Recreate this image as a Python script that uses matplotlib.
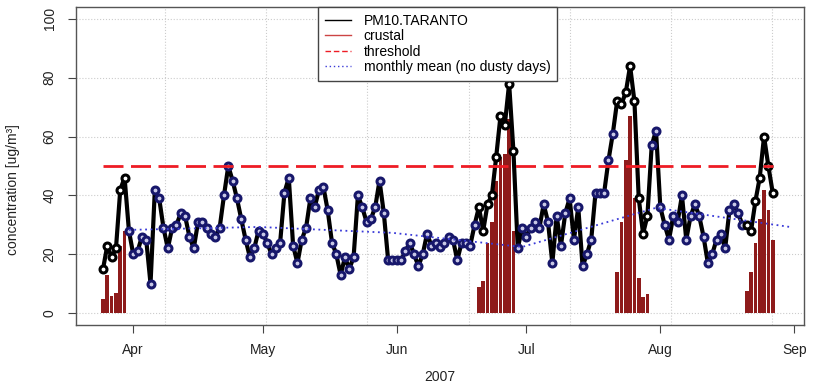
import numpy as np
import pandas as pd
import matplotlib
matplotlib.use("Agg")
import matplotlib.pyplot as plt
import matplotlib.dates as mdates
from matplotlib.lines import Line2D

plt.rcParams['font.family'] = ['Liberation Sans', 'DejaVu Sans']

# daily PM10 at Taranto, from 2007-03-25
start = '2007-03-25'
pm10 = [15, 23, 19, 22, 42, 46, 28, 20, 21, 26, 25, 10,
        42, 39, 29, 22, 29, 30, 34, 33, 26, 22, 31, 31, 29, 27, 26, 29, 40, 50,
        45, 39, 32, 25, 19, 22, 28, 27, 24, 20, 22, 24, 41, 46, 23, 17, 25, 29,
        39, 36, 42, 43, 35,
        24, 20, 13, 19, 15, 19, 40, 36, 31, 32, 36, 45, 34, 18, 18, 18, 18, 21,
        24, 20, 16, 20, 27, 23, 24,
        22.5, 24, 26, 25, 18, 24, 24, 23, 30, 36, 28, 37, 40, 53, 67, 64, 78, 55,
        22, 29, 26, 29, 31, 29, 37, 31, 17,
        33, 23, 34, 39, 25, 36, 16, 20, 25, 41, 41, 41, 52, 61, 72, 71, 75, 84,
        72, 39, 27, 33, 57, 62,
        36, 30, 25, 33, 31, 40, 25, 33, 37, 33, 26, 17, 20, 25, 27, 22, 35, 37,
        34, 30, 30, 28, 38, 46, 60, 50, 41]

# crustal contribution on dusty days
dust_starts = ['2007-03-25', '2007-06-20', '2007-07-22', '2007-08-21']
dust_vals = [[5, 13, 6, 7, 23, 28],
             [9, 11, 24, 31, 45, 53, 54, 66, 28],
             [14, 31, 52, 67, 39, 12, 5.5, 6.5],
             [7.5, 14, 24, 32, 42, 35, 25]]

# monthly mean without dusty days
mean_dates = ['2007-03-31', '2007-04-30', '2007-05-31', '2007-06-30',
              '2007-07-31', '2007-08-31']
mean_vals = [28.3, 29.3, 27.3, 22.5, 35.8, 29.3]

threshold = 50

days = pd.date_range(start, periods=len(pm10), freq='D')
pm = pd.Series(pm10, index=days, dtype=float)
crustal = pd.Series(0.0, index=days)
for s, v in zip(dust_starts, dust_vals):
    idx = pd.date_range(s, periods=len(v), freq='D')
    crustal[idx] = v
dusty = (crustal > 0).values

fig = plt.figure(figsize=(8.17, 3.83), dpi=100)
ax = fig.add_axes([76 / 817, 1 - 325 / 383, 728 / 817, 318 / 383])

# grid
ax.yaxis.grid(True, ls=':', color='#cccccc', lw=0.8)
vgrid = pd.Timestamp('2007-04-08 10:00') + pd.to_timedelta(np.arange(7) * 23.4, 'D')
for g in vgrid:
    ax.axvline(g, ls=':', color='#cccccc', lw=0.8, zorder=0)

# crustal bars
cd = crustal[crustal > 0]
ax.bar(cd.index, cd.values, width=0.85, color='#8e1b1b', zorder=2)

ax.plot(days, pm.values, color='black', lw=3, zorder=3, solid_joinstyle='round')
ax.plot(days[~dusty], pm.values[~dusty], 'o', ms=5, mfc='#c8c8e6', mec='#17176b',
        mew=2.2, zorder=4)
ax.plot(days[dusty], pm.values[dusty], 'o', ms=5, mfc='white', mec='black',
        mew=2.2, zorder=4)

ax.plot([days[0], days[-1]], [threshold, threshold], color='#ee1c25', lw=2,
        ls=(0, (7.2, 2.7)), zorder=5)
ax.plot(pd.to_datetime(mean_dates), mean_vals, color='#3a3ad8', lw=1.3,
        ls=(0, (1, 2)), zorder=5)

ax.set_xlim(pd.Timestamp('2007-03-18 18:00'), pd.Timestamp('2007-09-03 06:00'))
ax.set_ylim(-4, 104)
ax.set_yticks([0, 20, 40, 60, 80, 100])
ax.xaxis.set_major_locator(mdates.MonthLocator())
ax.xaxis.set_major_formatter(mdates.DateFormatter('%b'))
ax.tick_params(direction='out', length=6, color='#444444', labelsize=10,
               labelcolor='#222222')
ax.tick_params(axis='x', pad=7)
ax.tick_params(axis='y', pad=8)
plt.setp(ax.get_yticklabels(), rotation=90, va='center')
for sp in ax.spines.values():
    sp.set_color('#555555')
    sp.set_linewidth(1)

fig.text(440 / 817, 1 - 377 / 383, '2007', ha='center', va='center', fontsize=10,
         color='#222222')
fig.text(13 / 817, 1 - 190 / 383, 'concentration [ug/m³]', rotation=90,
         ha='center', va='center', fontsize=10, color='#222222')

handles = [Line2D([], [], color='black', lw=1),
           Line2D([], [], color='#cc4444', lw=1),
           Line2D([], [], color='#ee1c25', lw=1, ls=(0, (4, 2))),
           Line2D([], [], color='#3a3ad8', lw=1, ls=(0, (1, 2)))]
labels = ['PM10.TARANTO', 'crustal', 'threshold', 'monthly mean (no dusty days)']
leg = ax.legend(handles, labels, loc='upper left', bbox_to_anchor=(0.332, 1.0),
                borderaxespad=0, fancybox=False, framealpha=1, fontsize=10,
                handlelength=1.9, handletextpad=0.9, labelspacing=0.1,
                borderpad=0.5)
leg.get_frame().set_edgecolor('#444444')
leg.get_frame().set_linewidth(1)
leg.set_zorder(10)

fig.savefig('out.png', dpi=100)
